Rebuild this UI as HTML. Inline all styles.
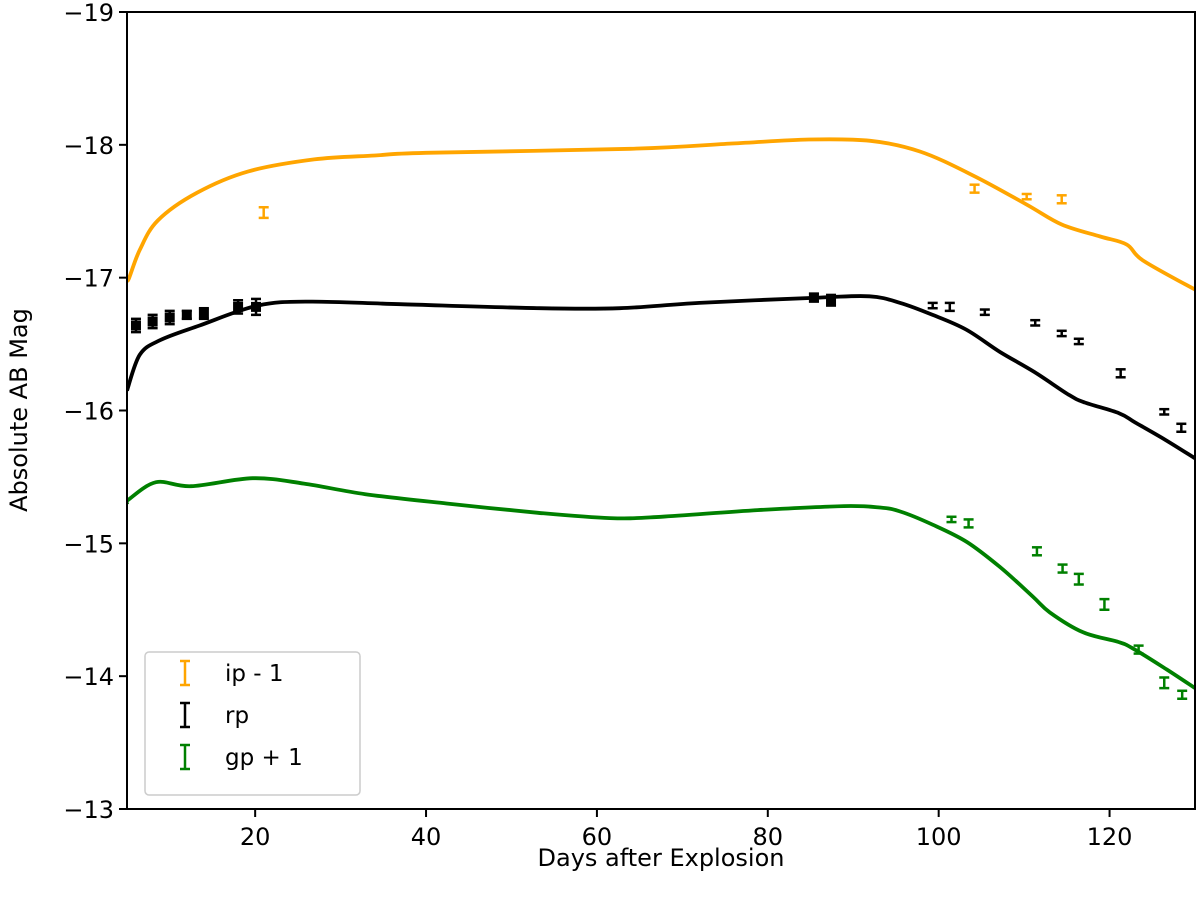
<!DOCTYPE html>
<html><head><meta charset="utf-8"><style>
html,body{margin:0;padding:0;background:#fff;}
svg{display:block;font-family:"DejaVu Sans","Liberation Sans",sans-serif;}
</style></head><body>
<svg id="chart" width="1200" height="901" viewBox="0 0 1200 901" xmlns="http://www.w3.org/2000/svg"></svg>
<script>
const xTicks=[20,40,60,80,100,120];
const yTicks=[-19,-18,-17,-16,-15,-14,-13];
const iModelDays=[5,5.2,6.5,8.6,13.2,19.2,26.9,34,40,63.9,75.8,84.8,92,97.8,104,110.3,114.4,118.9,122,123.9,130];
const iModelMag=[-17.0,-16.99,-17.21,-17.43,-17.64,-17.80,-17.89,-17.92,-17.94,-17.97,-18.01,-18.04,-18.03,-17.95,-17.77,-17.55,-17.40,-17.31,-17.25,-17.13,-16.91];
const rModelDays=[5,6.5,8.9,13.5,20.3,26.4,37,53.3,62.7,72,86,91.9,95.5,99.3,103.2,107.2,111.2,115.2,117.1,121.1,123,126.5,130];
const rModelMag=[-16.15,-16.42,-16.53,-16.64,-16.79,-16.82,-16.80,-16.77,-16.77,-16.81,-16.85,-16.86,-16.81,-16.72,-16.61,-16.44,-16.29,-16.12,-16.06,-15.98,-15.91,-15.78,-15.64];
const gModelDays=[5,5.2,8.4,12.5,19.7,25.7,32.9,42.4,53.1,61.5,67.5,78.8,88.9,93.1,95.5,99.3,103.3,107.2,111,113,116.9,120.9,122.7,126.7,130];
const gModelMag=[-15.30,-15.33,-15.46,-15.43,-15.49,-15.45,-15.37,-15.30,-15.23,-15.19,-15.20,-15.25,-15.28,-15.27,-15.24,-15.14,-15.01,-14.82,-14.60,-14.48,-14.33,-14.26,-14.21,-14.05,-13.91];
const iObsDays=[21,104.2,110.3,114.4];
const iObsMag=[-17.49,-17.67,-17.61,-17.59];
const iObsErr=[0.04,0.03,0.02,0.03];
const rObsDays=[6.05,8.0,10,12,14,18,20.1,85.4,87.4,99.3,101.3,105.4,111.3,114.4,116.4,121.3,126.4,128.4];
const rObsMag=[-16.64,-16.67,-16.70,-16.72,-16.73,-16.78,-16.78,-16.85,-16.83,-16.79,-16.78,-16.74,-16.66,-16.58,-16.52,-16.28,-15.99,-15.87];
const rObsErr=[0.05,0.05,0.05,0.03,0.04,0.05,0.06,0.03,0.04,0.02,0.03,0.02,0.02,0.02,0.02,0.03,0.02,0.03];
const rObsBig=[1,1,1,1,1,1,1,1,1,0,0,0,0,0,0,0,0,0];
const gObsDays=[101.5,103.5,111.5,114.5,116.4,119.4,123.4,126.4,128.5];
const gObsMag=[-15.18,-15.15,-14.94,-14.81,-14.73,-14.54,-14.20,-13.95,-13.86];
const gObsErr=[0.02,0.03,0.03,0.03,0.04,0.04,0.03,0.04,0.03];

const L=127,R=1195,T=12,B=809,X0=5,X1=130,Y0=-19,Y1=-13;
const xs=d=>L+(d-X0)/(X1-X0)*(R-L);
const ys=m=>T+(m-Y0)/(Y1-Y0)*(B-T);
const svg=document.getElementById('chart');
const NS='http://www.w3.org/2000/svg';
function mk(tag,attrs,parent){const e=document.createElementNS(NS,tag);for(const k in attrs)e.setAttribute(k,attrs[k]);(parent||svg).appendChild(e);return e;}

const plot=mk('g',{});


const clip=mk('clipPath',{id:'cp'});mk('rect',{x:L,y:T,width:R-L,height:B-T},clip);

function smoothPath(pts){
  let d='M'+pts[0][0].toFixed(1)+','+pts[0][1].toFixed(1);
  for(let i=0;i<pts.length-1;i++){
    const p0=pts[Math.max(0,i-1)],p1=pts[i],p2=pts[i+1],p3=pts[Math.min(pts.length-1,i+2)];
    const c1x=p1[0]+(p2[0]-p0[0])/6,c1y=p1[1]+(p2[1]-p0[1])/6;
    const c2x=p2[0]-(p3[0]-p1[0])/6,c2y=p2[1]-(p3[1]-p1[1])/6;
    d+=' C'+c1x.toFixed(1)+','+c1y.toFixed(1)+' '+c2x.toFixed(1)+','+c2y.toFixed(1)+' '+p2[0].toFixed(1)+','+p2[1].toFixed(1);
  }
  return d;
}
function line(days,mags,color,name){
  const pts=days.map((d,i)=>[xs(d),ys(mags[i])]);
  const p=mk('path',{d:smoothPath(pts),fill:'none',stroke:color,'stroke-width':3.8,'stroke-linejoin':'round','clip-path':'url(#cp)'},plot);
  
  
}
function errs(days,mags,err,color,name,big){
  const g=mk('g',{},plot);
  
  
  days.forEach((d,i)=>{
    const x=xs(d),y1=ys(mags[i]-err[i]),y2=ys(mags[i]+err[i]);
    mk('line',{x1:x,x2:x,y1:y1,y2:y2,stroke:color,'stroke-width':2.5},g);
    mk('line',{x1:x-5,x2:x+5,y1:y1,y2:y1,stroke:color,'stroke-width':2.5},g);
    mk('line',{x1:x-5,x2:x+5,y1:y2,y2:y2,stroke:color,'stroke-width':2.5},g);
    if(big&&big[i]){const r=mk('rect',{x:x-5,y:ys(mags[i])-5,width:10,height:10,fill:color},g);
      
      }
  });
}
line(iModelDays,iModelMag,'#ffa500','ip-model-line');
line(rModelDays,rModelMag,'#000000','rp-model-line');
line(gModelDays,gModelMag,'#008000','gp-model-line');
errs(iObsDays,iObsMag,iObsErr,'#ffa500','ip-observations');
errs(rObsDays,rObsMag,rObsErr,'#000000','rp-observations',rObsBig);
errs(gObsDays,gObsMag,gObsErr,'#008000','gp-observations');

const fr=mk('rect',{x:L,y:T,width:R-L,height:B-T,fill:'none',stroke:'#000','stroke-width':2});


const xa=mk('g',{});


xTicks.forEach(t=>{const x=xs(t);mk('line',{x1:x,x2:x,y1:B,y2:B+8,stroke:'#000','stroke-width':2},xa);
  const tx=mk('text',{x:x,y:B+36,'text-anchor':'middle','font-size':24},xa);tx.textContent=t;
  
  });
const ya=mk('g',{});


yTicks.forEach(t=>{const y=ys(t);mk('line',{x1:L-8,x2:L,y1:y,y2:y,stroke:'#000','stroke-width':2},ya);
  const tx=mk('text',{x:L-13,y:y+9,'text-anchor':'end','font-size':24},ya);tx.textContent='\u2212'+Math.abs(t);
  
  });
const xt=mk('text',{x:(L+R)/2,y:866,'text-anchor':'middle','font-size':24});xt.textContent='Days after Explosion';


const yt=mk('text',{x:0,y:0,'text-anchor':'middle','font-size':24,transform:'translate(27,410) rotate(-90)'});yt.textContent='Absolute AB Mag';



const lg=mk('g',{});


mk('rect',{x:145,y:652,width:215,height:143,rx:4,fill:'#fff',stroke:'#ccc','stroke-width':1.5},lg);
const legLabels=['ip - 1','rp','gp + 1'];
const legColors=['#ffa500','#000000','#008000'];
legLabels.forEach((s,i)=>{const y=673+i*42;
  const e=mk('g',{},lg);
  
  
  mk('line',{x1:185,x2:185,y1:y-12,y2:y+12,stroke:legColors[i],'stroke-width':2.5},e);
  mk('line',{x1:180,x2:190,y1:y-12,y2:y-12,stroke:legColors[i],'stroke-width':2.5},e);
  mk('line',{x1:180,x2:190,y1:y+12,y2:y+12,stroke:legColors[i],'stroke-width':2.5},e);
  const tx=mk('text',{x:225,y:y+8,'font-size':23},e);tx.textContent=s;});
</script>
</body></html>
